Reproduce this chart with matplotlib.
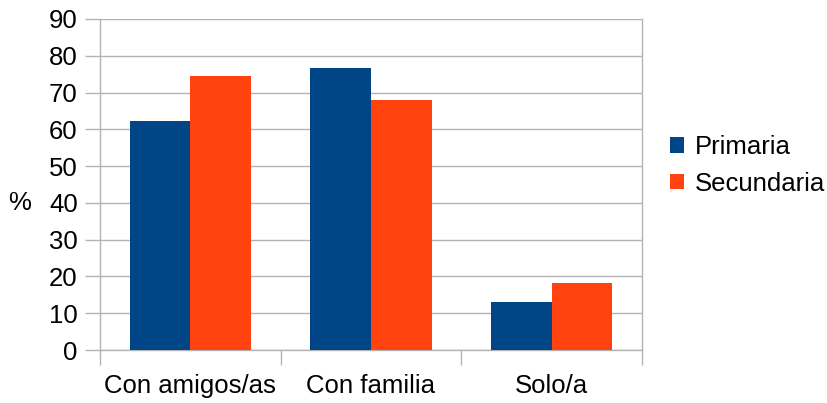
import numpy as np
import matplotlib.pyplot as plt

plt.rcParams['font.family'] = ['Liberation Sans', 'DejaVu Sans']

categories = ["Con amigos/as", "Con familia", "Solo/a"]
primaria = [62.3, 76.7, 13.1]
secundaria = [74.5, 68.0, 18.3]
series_names = ["Primaria", "Secundaria"]
colors = ["#004586", "#ff420e"]
grid_col = "#b3b3b3"
fs = 18.5

fig = plt.figure(figsize=(8.27, 4.03), dpi=100)
ax = fig.add_axes([100 / 827, 53 / 403, 542 / 827, 331 / 403])

x = np.arange(len(categories))
w = 0.335
ax.bar(x - w, primaria, width=w, align='edge', color=colors[0], label=series_names[0], zorder=3)
ax.bar(x, secundaria, width=w, align='edge', color=colors[1], label=series_names[1], zorder=3)

ax.set_xlim(-0.5, len(categories) - 0.5)
ax.set_ylim(0, 90)
ax.set_yticks(range(0, 91, 10))
ax.yaxis.grid(True, color=grid_col, linewidth=1, zorder=0)
ax.set_axisbelow(True)

ax.set_xticks(x)
ax.set_xticklabels(categories)
ax.set_xticks(np.arange(-0.5, len(categories), 1.0), minor=True)
ax.tick_params(axis='x', which='major', length=0, labelsize=fs, pad=17.5)
ax.tick_params(axis='x', which='minor', length=11, width=1, color=grid_col)
ax.tick_params(axis='y', length=11, width=1, color=grid_col, labelsize=fs, pad=5)

for s in ['left', 'right', 'bottom']:
    ax.spines[s].set_color(grid_col)
    ax.spines[s].set_linewidth(1)
ax.spines['top'].set_visible(False)

fig.text(20 / 827, 1 - 203 / 403, "%", fontsize=fs, ha='center', va='center')

ax.legend(loc='center left', bbox_to_anchor=(1.052, 0.558), frameon=False, fontsize=fs,
          borderaxespad=0, borderpad=0,
          handlelength=0.55, handleheight=0.55, handletextpad=0.4, labelspacing=0.5)

fig.savefig("out.png", dpi=100)
